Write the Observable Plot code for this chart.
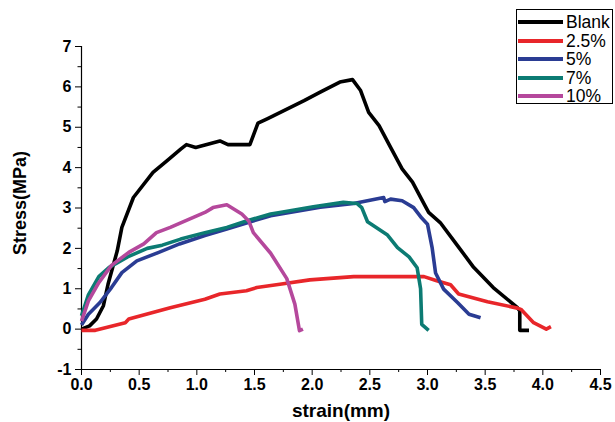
<!DOCTYPE html>
<html>
<head>
<meta charset="utf-8">
<script src="https://cdn.jsdelivr.net/npm/d3@7"></script>
<script src="https://cdn.jsdelivr.net/npm/@observablehq/plot@0.6"></script>
<style>
  body { margin: 0; background: #fff; }
  #wrap { position: relative; width: 615px; height: 422px; font-family: "Liberation Sans", Arial, sans-serif; }
  #legend { position: absolute; left: 516px; top: 9px; width: 95px; height: 93px; border: 1px solid #000; background: #fff; }
  .row { position: absolute; left: 0; height: 18px; display: flex; align-items: center; white-space: nowrap; }
  .sw { width: 45px; height: 4px; margin-left: 1px; margin-right: 3px; }
  .lb { font-size: 17.5px; color: #000; line-height: 18px; }
</style>
</head>
<body>
<div id="wrap"><div id="legend"></div></div>
<script>
const seriesNames = ["Blank", "2.5%", "5%", "7%", "10%"];
const seriesColors = ["#000000", "#e8262a", "#2a3c93", "#0c7b73", "#b5489c"];

const blank = [[0,0],[0.07,0.08],[0.13,0.25],[0.19,0.58],[0.23,1.11],[0.31,1.94],[0.35,2.52],[0.45,3.26],[0.62,3.88],[0.74,4.17],[0.86,4.46],[0.91,4.57],[0.99,4.50],[1.20,4.66],[1.27,4.57],[1.46,4.57],[1.53,5.10],[1.61,5.21],[1.93,5.66],[2.07,5.87],[2.24,6.12],[2.35,6.18],[2.42,5.91],[2.49,5.37],[2.58,5.04],[2.68,4.50],[2.78,3.97],[2.87,3.64],[2.97,3.10],[3.01,2.89],[3.11,2.64],[3.26,2.07],[3.40,1.53],[3.57,1.03],[3.78,0.53],[3.80,0.45],[3.80,-0.03],[3.88,-0.03]];
const p25 = [[0,-0.03],[0.12,-0.03],[0.38,0.16],[0.41,0.25],[0.77,0.53],[1.07,0.74],[1.20,0.87],[1.43,0.95],[1.52,1.03],[1.72,1.11],[1.98,1.22],[2.36,1.30],[2.97,1.30],[3.08,1.20],[3.20,1.10],[3.27,0.87],[3.52,0.68],[3.78,0.52],[3.81,0.49],[3.92,0.16],[4.03,0.0],[4.07,0.06]];
const p5 = [[0,0.10],[0.06,0.37],[0.16,0.66],[0.26,1.03],[0.35,1.40],[0.48,1.69],[0.67,1.90],[0.85,2.11],[1.07,2.32],[1.26,2.48],[1.64,2.81],[2.07,3.02],[2.36,3.11],[2.62,3.26],[2.63,3.16],[2.68,3.22],[2.78,3.18],[2.88,3.01],[2.95,2.75],[3.00,2.60],[3.04,2.02],[3.07,1.39],[3.14,0.99],[3.26,0.66],[3.36,0.37],[3.46,0.28]];
const p7 = [[0,0.33],[0.06,0.85],[0.15,1.30],[0.24,1.53],[0.40,1.79],[0.57,2.00],[0.70,2.08],[0.86,2.23],[1.07,2.39],[1.26,2.52],[1.43,2.68],[1.64,2.85],[1.72,2.89],[2.01,3.03],[2.27,3.14],[2.39,3.11],[2.43,3.01],[2.48,2.66],[2.65,2.34],[2.74,2.02],[2.84,1.79],[2.91,1.52],[2.94,1.00],[2.95,0.12],[3.01,-0.03]];
const p10 = [[0,0.20],[0.06,0.70],[0.15,1.15],[0.26,1.58],[0.41,1.90],[0.54,2.11],[0.65,2.39],[0.77,2.52],[0.94,2.73],[1.07,2.89],[1.14,3.01],[1.26,3.08],[1.39,2.85],[1.45,2.68],[1.49,2.39],[1.64,1.88],[1.78,1.25],[1.85,0.62],[1.89,-0.04],[1.92,0.00]];

const xTicks = [0, 0.5, 1, 1.5, 2, 2.5, 3, 3.5, 4, 4.5];
const xMinor = [0.25, 0.75, 1.25, 1.75, 2.25, 2.75, 3.25, 3.75, 4.25];
const yTicks = [-1, 0, 1, 2, 3, 4, 5, 6, 7];
const yMinor = [-0.5, 0.5, 1.5, 2.5, 3.5, 4.5, 5.5, 6.5];
const xTitle = "strain(mm)";
const yTitle = "Stress(MPa)";

const allSeries = [blank, p25, p5, p7, p10];
const table = allSeries.flatMap((s, i) => s.map(([x, y], j) => ({series: seriesNames[i], x, y, j})));

const lineMarks = seriesNames.map((name, i) =>
  Plot.line(table.filter(d => d.series === name), {x: "x", y: "y", stroke: seriesColors[i], strokeWidth: 3.6, strokeLinejoin: "round", strokeLinecap: "butt"})
);

const chart = Plot.plot({
  width: 615,
  height: 422,
  marginLeft: 81,
  marginRight: 15,
  marginTop: 46,
  marginBottom: 53,
  style: {fontFamily: "'Liberation Sans', Arial, sans-serif", fontWeight: "bold", fontSize: "16px", color: "#000", background: "#fff", overflow: "visible"},
  x: {domain: [0, 4.5]},
  y: {domain: [-1, 7]},
  marks: [
    Plot.ruleX([0], {stroke: "#000", strokeWidth: 1.2}),
    Plot.ruleY([-1], {stroke: "#000", strokeWidth: 1.2}),
    Plot.axisX({ticks: xTicks, tickFormat: d => d.toFixed(1), tickSize: 6, tickPadding: 3, label: null, fontSize: 16, fontWeight: "bold", stroke: "#000", strokeOpacity: 1}),
    Plot.axisX({ticks: xMinor, tickFormat: () => "", tickSize: 3, label: null, strokeOpacity: 1}),
    Plot.axisY({ticks: yTicks, tickFormat: d => String(d), tickSize: 6, tickPadding: 4, label: null, fontSize: 16, fontWeight: "bold", strokeOpacity: 1}),
    Plot.axisY({ticks: yMinor, tickFormat: () => "", tickSize: 3.5, label: null, strokeOpacity: 1}),
    ...lineMarks,
    Plot.text([xTitle], {frameAnchor: "bottom", dy: 41, text: d => d, fontSize: 19, fontWeight: "bold", lineAnchor: "middle", textAnchor: "middle"}),
    Plot.text([yTitle], {frameAnchor: "left", dx: -61, dy: -5, text: d => d, rotate: -90, fontSize: 18, fontWeight: "bold", lineAnchor: "middle", textAnchor: "middle"})
  ]
});

const wrap = document.getElementById("wrap");
wrap.insertBefore(chart, wrap.firstChild);

const legend = document.getElementById("legend");
seriesNames.forEach((name, i) => {
  const row = document.createElement("div");
  row.className = "row";
  row.style.top = (3 + i * 18.5) + "px";
  const sw = document.createElement("div");
  sw.className = "sw";
  sw.style.background = seriesColors[i];
  const lb = document.createElement("span");
  lb.className = "lb";
  lb.textContent = name;
  row.appendChild(sw);
  row.appendChild(lb);
  legend.appendChild(row);
});
</script>
</body>
</html>
